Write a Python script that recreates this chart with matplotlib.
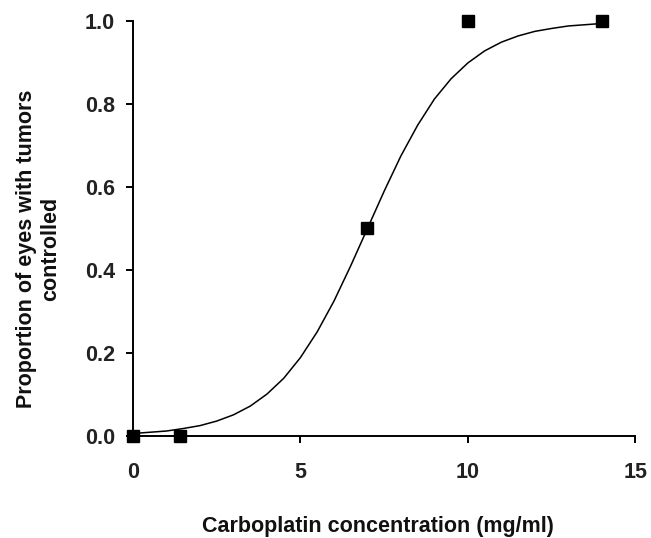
import matplotlib
matplotlib.use("Agg")
import matplotlib.pyplot as plt

# observed data (proportion of eyes with tumors controlled)
conc = [0, 1.4, 7, 10, 14]
prop = [0.0, 0.0, 0.5, 1.0, 1.0]

# fitted dose-response curve
curve_x = [0, 0.5, 1, 1.5, 2, 2.5, 3, 3.5, 4, 4.5, 5, 5.5, 6, 6.5, 7,
           7.5, 8, 8.5, 9, 9.5, 10, 10.5, 11, 11.5, 12, 12.5, 13, 13.5, 14]
curve_y = [0.006, 0.009, 0.012, 0.018, 0.025, 0.036, 0.051, 0.072, 0.101,
           0.139, 0.189, 0.251, 0.325, 0.410, 0.500, 0.590, 0.675, 0.749,
           0.812, 0.861, 0.899, 0.928, 0.949, 0.964, 0.975, 0.982, 0.988,
           0.991, 0.994]

x_ticks = [0, 5, 10, 15]
y_ticks = [0.0, 0.2, 0.4, 0.6, 0.8, 1.0]

plt.rcParams['font.family'] = ['Liberation Sans', 'DejaVu Sans']

fig = plt.figure(figsize=(6.51, 5.38), dpi=100)
ax = fig.add_axes([0.2043, 0.1896, 0.7717, 0.7714])

ax.plot(curve_x, curve_y, color='black', lw=1.1, clip_on=False)
ax.plot(conc, prop, 's', color='black', markersize=8.5, clip_on=False, zorder=5)

ax.set_xlim(0, 15)
ax.set_ylim(0, 1.0)
ax.set_xticks(x_ticks)
ax.set_yticks(y_ticks)
ax.set_xticklabels([str(t) for t in x_ticks])
ax.set_yticklabels(['%.1f' % t for t in y_ticks])

for s in ['top', 'right']:
    ax.spines[s].set_visible(False)
for s in ['left', 'bottom']:
    ax.spines[s].set_linewidth(1.4)

ax.tick_params(direction='out', length=5, width=1.4, labelsize=15.5)
ax.tick_params(axis='y', pad=8)
ax.tick_params(axis='x', pad=14)
for lab in ax.get_xticklabels() + ax.get_yticklabels():
    lab.set_fontweight('bold')
    lab.set_color('#222222')

ax.set_xlabel('Carboplatin concentration (mg/ml)', fontsize=15.5,
              fontweight='bold', color='#111111')
ax.set_ylabel('Proportion of eyes with tumors\ncontrolled', fontsize=15.5,
              fontweight='bold', color='#111111')
ax.xaxis.set_label_coords(0.487, -0.193)
ax.yaxis.set_label_coords(-0.143, 0.45)

fig.savefig('out.png', dpi=100)
